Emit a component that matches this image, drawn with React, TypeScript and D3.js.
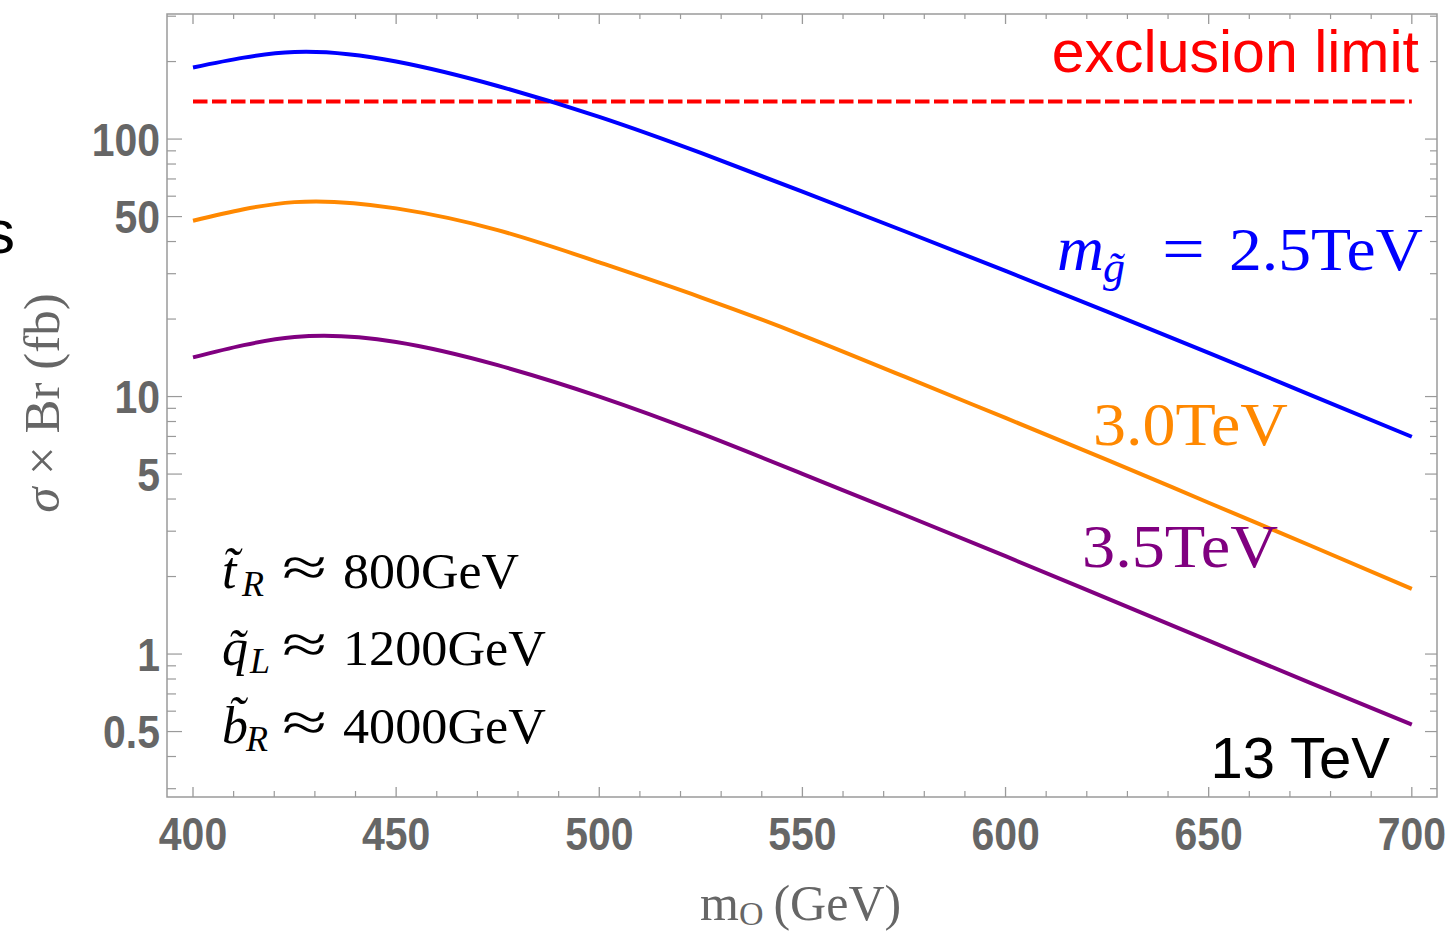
import React from "react";
import * as d3 from "d3";

// m_O (GeV)
const massGeV = [400, 425, 450, 475, 500, 525, 550, 575, 600, 625, 650, 675, 700];
// sigma x Br (fb) for m_gluino = 2.5, 3.0, 3.5 TeV
const sigma25 = [189.7, 217.8, 200.0, 160.7, 121.9, 88.3, 62.5, 43.95, 30.76, 21.38, 14.79, 10.16, 6.98];
const sigma30 = [48.2, 56.9, 53.8, 44.3, 33.2, 24.3, 17.3, 11.97, 8.26, 5.68, 3.87, 2.64, 1.79];
const sigma35 = [14.19, 17.02, 16.29, 13.24, 10.0, 7.19, 5.01, 3.475, 2.399, 1.644, 1.127, 0.773, 0.532];
const exclusionLimit = 140;

const xMajorTicks = [400, 450, 500, 550, 600, 650, 700];
const xTickLabels = ["400", "450", "500", "550", "600", "650", "700"];
const yLabeledTicks = [0.5, 1, 5, 10, 50, 100];
const yTickLabels = ["0.5", "1", "5", "10", "50", "100"];

const GRAY = "#666666";
const FRAME = "#9a9a9a";
const SERIF = "'Liberation Serif', 'Times New Roman', serif";
const SANS = "'Liberation Sans', Arial, sans-serif";

export default function App() {
  const W = 1449, H = 931;
  const left = 167, right = 1437, top = 14, bottom = 797;
  const x = d3.scaleLinear().domain([393.6, 706.2]).range([left, right]);
  const y = d3.scaleLog().domain([0.2785, 306]).range([bottom, top]);

  const line = d3
    .line<number>()
    .x((_, i) => x(massGeV[i]))
    .y((d) => y(d))
    .curve(d3.curveNatural);

  const xMinor = d3.range(400, 701, 10).filter((v) => v % 50 !== 0);
  const yAll: { v: number; major: boolean }[] = [];
  [0.1, 1, 10, 100].forEach((dec) => {
    for (let k = 1; k <= 9; k++) {
      const v = +(k * dec).toPrecision(3);
      if (v >= 0.2785 && v <= 306) yAll.push({ v, major: k === 1 || k === 5 });
    }
  });

  const annot = [
    { sym: "t̃", sub: "R", subX: 242, value: "800GeV", len: 176, base: 588 },
    { sym: "q̃", sub: "L", subX: 250, value: "1200GeV", len: 203, base: 665 },
    { sym: "b̃", sub: "R", subX: 246, value: "4000GeV", len: 203, base: 743 },
  ];

  return (
    <div style={{ position: "absolute", left: 0, top: 0 }}>
      <svg width={W} height={H} style={{ display: "block", background: "#fff" }}>
        {/* clipped word fragment at left edge */}
        <text x={-16} y={253} fontFamily={SANS} fontSize={62} fill="#000">s</text>

        {/* frame */}
        <rect x={left} y={top} width={right - left} height={bottom - top} fill="none" stroke={FRAME} strokeWidth={1.5} />

        {/* x ticks bottom and top */}
        {xMajorTicks.map((v) => (
          <g key={"xM" + v}>
            <line x1={x(v)} x2={x(v)} y1={bottom} y2={bottom - 10} stroke={FRAME} strokeWidth={1.3} />
            <line x1={x(v)} x2={x(v)} y1={top} y2={top + 10} stroke={FRAME} strokeWidth={1.3} />
          </g>
        ))}
        {xMinor.map((v) => (
          <g key={"xm" + v}>
            <line x1={x(v)} x2={x(v)} y1={bottom} y2={bottom - 6} stroke={FRAME} strokeWidth={1.2} />
            <line x1={x(v)} x2={x(v)} y1={top} y2={top + 5} stroke={FRAME} strokeWidth={1.2} />
          </g>
        ))}
        {/* y ticks left and right */}
        {yAll.map(({ v, major }) => (
          <g key={"y" + v}>
            <line x1={left} x2={left + (major ? 15 : 9)} y1={y(v)} y2={y(v)} stroke={FRAME} strokeWidth={1.2} />
            <line x1={right} x2={right - (major ? 12 : 7)} y1={y(v)} y2={y(v)} stroke={FRAME} strokeWidth={1.2} />
          </g>
        ))}

        {/* tick labels */}
        {xMajorTicks.map((v, i) => (
          <g key={"xl" + v} transform={`translate(${x(v)},850) scale(0.89,1)`}>
            <text x={0} y={0} textAnchor="middle" fontFamily={SANS} fontWeight="bold" fontSize={46} fill={GRAY}>
              {xTickLabels[i]}
            </text>
          </g>
        ))}
        {yLabeledTicks.map((v, i) => (
          <g key={"yl" + v} transform={`translate(160,${y(v) + 16.5}) scale(0.89,1)`}>
            <text x={0} y={0} textAnchor="end" fontFamily={SANS} fontWeight="bold" fontSize={46} fill={GRAY}>
              {yTickLabels[i]}
            </text>
          </g>
        ))}

        {/* axis labels */}
        <text x={700} y={920} fontFamily={SERIF} fontSize={50} fill={GRAY}>
          m<tspan fontSize={34} dy={5}>O</tspan>
          <tspan dy={-5} dx={10}>(GeV)</tspan>
        </text>
        <text transform="translate(59,403) rotate(-90)" textAnchor="middle" fontFamily={SERIF} fontSize={51} fill={GRAY}>
          <tspan fontStyle="italic">σ</tspan> × Br (fb)
        </text>

        {/* exclusion limit */}
        <line x1={x(400)} x2={x(700)} y1={y(exclusionLimit)} y2={y(exclusionLimit)} stroke="#ff0000" strokeWidth={4} strokeDasharray="14.5 4.5" />

        {/* curves */}
        <path d={line(sigma25) || ""} fill="none" stroke="#0000ff" strokeWidth={4} />
        <path d={line(sigma30) || ""} fill="none" stroke="#ff8800" strokeWidth={4} />
        <path d={line(sigma35) || ""} fill="none" stroke="#800080" strokeWidth={4} />

        {/* annotations */}
        <text x={1419} y={72} textAnchor="end" fontFamily={SANS} fontSize={59} fill="#ff0000">exclusion limit</text>
        <text x={1390} y={778} textAnchor="end" fontFamily={SANS} fontSize={58} fill="#000">13 TeV</text>

        <g fill="#0000ff" fontFamily={SERIF}>
          <text x={1057} y={270} fontSize={64} fontStyle="italic" textLength={47} lengthAdjust="spacingAndGlyphs">m</text>
          <text x={1103} y={282} fontSize={44} fontStyle="italic">g̃</text>
          <text x={1162} y={270} fontSize={64} textLength={43} lengthAdjust="spacingAndGlyphs">=</text>
          <text x={1229} y={270} fontSize={62} textLength={194} lengthAdjust="spacingAndGlyphs">2.5TeV</text>
        </g>
        <text x={1093} y={445} fontFamily={SERIF} fontSize={62} fill="#ff8800" textLength={195} lengthAdjust="spacingAndGlyphs">3.0TeV</text>
        <text x={1082} y={567} fontFamily={SERIF} fontSize={62} fill="#800080" textLength={196} lengthAdjust="spacingAndGlyphs">3.5TeV</text>

        {annot.map((a) => (
          <g key={a.value} fill="#000" fontFamily={SERIF}>
            <text x={222} y={a.base} fontSize={52} fontStyle="italic">{a.sym}</text>
            <text x={a.subX} y={a.base + 8} fontSize={36} fontStyle="italic">{a.sub}</text>
            <text x={282} y={a.base - 2} fontSize={56} textLength={45} lengthAdjust="spacingAndGlyphs">≈</text>
            <text x={343} y={a.base} fontSize={50} textLength={a.len} lengthAdjust="spacingAndGlyphs">{a.value}</text>
          </g>
        ))}
      </svg>
    </div>
  );
}
